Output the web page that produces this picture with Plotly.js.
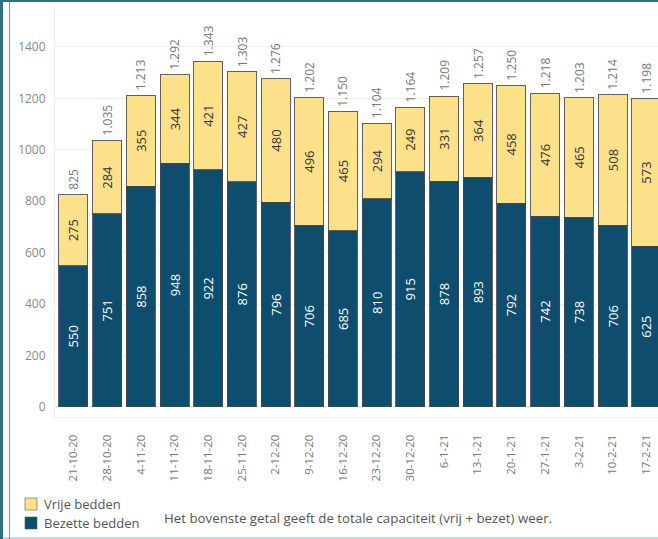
<!DOCTYPE html>
<html>
<head>
<meta charset="utf-8">
<script src="https://cdn.plot.ly/plotly-3.0.1.min.js"></script>
<style>
  html, body { margin: 0; padding: 0; background: #fff; }
  #wrap { position: relative; width: 658px; height: 539px; overflow: hidden; }
  #chart { width: 658px; height: 539px; }
  .frame { position: absolute; background: #2f6f7e; }
</style>
</head>
<body>
<div id="wrap">
  <div id="chart"></div>
  <div class="frame" style="left:0;top:0;width:3px;height:539px;"></div>
  <div class="frame" style="left:9px;top:0;width:1px;height:539px;opacity:0.7;"></div>
  <div class="frame" style="left:0;top:0;width:658px;height:2px;"></div>
  <div class="frame" style="left:0;top:537px;width:658px;height:2px;opacity:0.25;"></div>
</div>
<script>
const dates = ["21-10-20","28-10-20","4-11-20","11-11-20","18-11-20","25-11-20","2-12-20","9-12-20","16-12-20","23-12-20","30-12-20","6-1-21","13-1-21","20-1-21","27-1-21","3-2-21","10-2-21","17-2-21"];
const bezette = [550,751,858,948,922,876,796,706,685,810,915,878,893,792,742,738,706,625];
const vrije = [275,284,355,344,421,427,480,496,465,294,249,331,364,458,476,465,508,573];
const totals = [825,1035,1213,1292,1343,1303,1276,1202,1150,1104,1164,1209,1257,1250,1218,1203,1214,1198];
const seriesNames = ["Bezette bedden", "Vrije bedden"];
const noteText = "Het bovenste getal geeft de totale capaciteit (vrij + bezet) weer.";

const fmt = n => String(n).replace(/\B(?=(\d{3})+(?!\d))/g, ".");
const FONT = "Open Sans, sans-serif";
const outline = {color: "rgba(70,70,70,0.85)", width: 1};
const COL_BEZ = "#0e4d6e", COL_VRIJ = "#fde08a";

const traces = [
  {
    type: "bar", name: seriesNames[0], x: dates, y: bezette,
    marker: {color: COL_BEZ, line: outline},
    text: bezette.map(String), textposition: "inside", insidetextanchor: "middle",
    textangle: -90, textfont: {family: FONT, size: 13, color: "#ffffff"},
    hoverinfo: "skip"
  },
  {
    type: "bar", name: seriesNames[1], x: dates, y: vrije,
    marker: {color: COL_VRIJ, line: outline},
    text: vrije.map(String), textposition: "inside", insidetextanchor: "middle",
    textangle: -90, textfont: {family: FONT, size: 13, color: "#333333"},
    hoverinfo: "skip"
  }
];

// pixel -> paper helpers (plot area: left 55, width 603, top 5, height 412)
const px = p => (p - 55) / 603;
const py = p => (417 - p) / 412;

const annotations = totals.map((t, i) => ({
  x: dates[i], y: t, xref: "x", yref: "y", text: fmt(t), showarrow: false,
  textangle: -90, xanchor: "center", yanchor: "bottom", yshift: 3,
  font: {family: FONT, size: 12, color: "#777777"}
}));
annotations.push({
  xref: "paper", yref: "paper", x: px(162), y: py(518), xanchor: "left", yanchor: "middle",
  showarrow: false, text: noteText,
  font: {family: FONT, size: 13.3, color: "#555555"}
});
// custom legend
const legendItems = [
  {name: seriesNames[1], color: COL_VRIJ, cy: 504},
  {name: seriesNames[0], color: COL_BEZ, cy: 523}
];
const shapes = [];
legendItems.forEach(it => {
  shapes.push({
    type: "rect", xref: "paper", yref: "paper",
    x0: px(25), x1: px(37), y0: py(it.cy - 6), y1: py(it.cy + 6),
    fillcolor: it.color, line: {color: "rgba(90,90,90,0.6)", width: 1}
  });
  annotations.push({
    xref: "paper", yref: "paper", x: px(42), y: py(it.cy), xanchor: "left", yanchor: "middle",
    showarrow: false, text: it.name,
    font: {family: FONT, size: 13, color: "#555555"}
  });
});

const layout = {
  width: 658, height: 539,
  margin: {l: 55, r: 0, t: 5, b: 122},
  paper_bgcolor: "#ffffff", plot_bgcolor: "#ffffff",
  barmode: "stack", bargap: 0.14,
  showlegend: false,
  xaxis: {
    type: "category", range: [-0.547, 17.35],
    tickangle: -90, ticks: "outside", ticklen: 12, tickcolor: "rgba(0,0,0,0)",
    tickfont: {family: FONT, size: 11.5, color: "#777777"},
    showgrid: false, showline: true, linecolor: "#eeeeee", zeroline: false
  },
  yaxis: {
    range: [-39, 1563], dtick: 200, tick0: 0,
    tickfont: {family: FONT, size: 12, color: "#888888"},
    showgrid: true, gridcolor: "#eeeeee", zeroline: false,
    showline: true, linecolor: "#eeeeee", ticks: "outside", ticklen: 6, tickcolor: "rgba(0,0,0,0)",
    tickformat: "d"
  },
  shapes: shapes,
  annotations: annotations
};

Plotly.newPlot("chart", traces, layout, {displayModeBar: false, staticPlot: true});
</script>
</body>
</html>
